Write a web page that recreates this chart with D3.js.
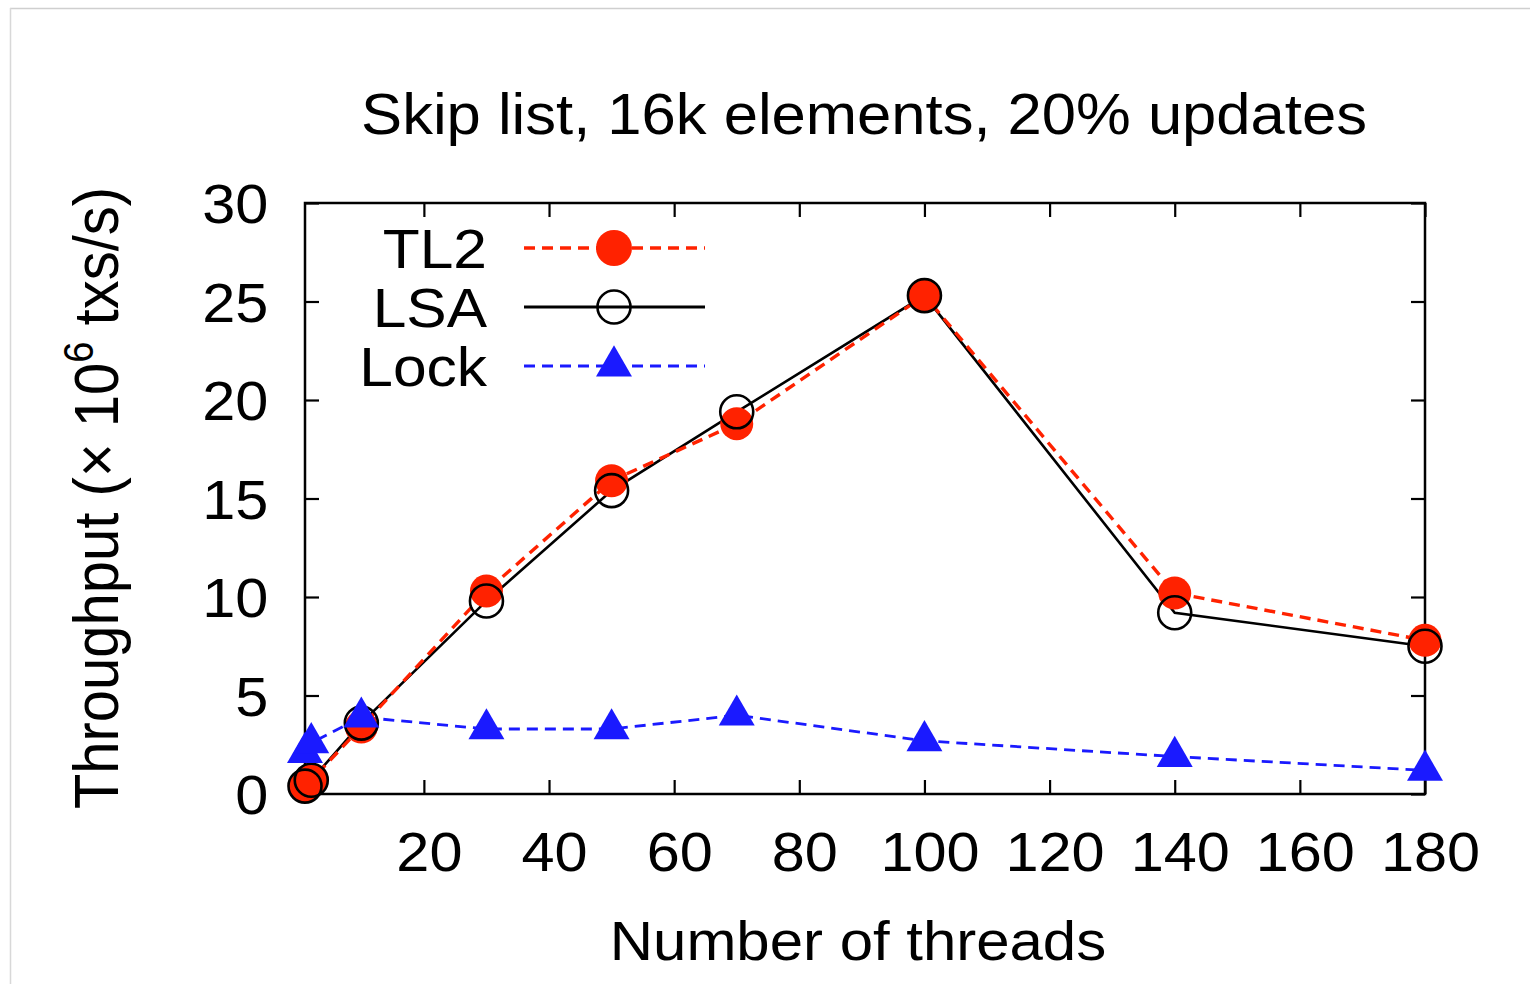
<!DOCTYPE html>
<html><head><meta charset="utf-8">
<script src="https://cdn.jsdelivr.net/npm/d3@7"></script>
<style>
html,body{margin:0;padding:0;background:#fff;}
svg{display:block;font-family:"Liberation Sans",Arial,Helvetica,sans-serif;}
</style></head>
<body>
<svg id="chart" width="1530" height="984"></svg>
<script>
const title = "Skip list, 16k elements, 20% updates";
const xLabel = "Number of threads";
const threads = [1, 2, 10, 30, 50, 70, 100, 140, 180];
const tl2  = [0.4, 0.7, 3.4, 10.3, 15.9, 18.8, 25.3, 10.2, 7.8];
const lsa  = [0.4, 0.7, 3.6, 9.8, 15.4, 19.4, 25.3, 9.2, 7.5];
const lock = [2.1, 2.6, 3.9, 3.3, 3.3, 4.0, 2.7, 1.9, 1.2];
const xTicks = [20, 40, 60, 80, 100, 120, 140, 160, 180];
const yTicks = [0, 5, 10, 15, 20, 25, 30];
const seriesNames = ["TL2", "LSA", "Lock"];

const svg = d3.select("#chart");
const W = 1530, H = 984;
const m = {left: 305, right: 1425, top: 203, bottom: 794};
const SX = 1.08; // horizontal stretch of glyphs seen in the reference
const FS = 56;

// screenshot frame
svg.append("line").attr("x1",10).attr("x2",W).attr("y1",8.5).attr("y2",8.5).attr("stroke","#cfcfcf").attr("stroke-width",1.5);
svg.append("line").attr("x1",10.5).attr("x2",10.5).attr("y1",8).attr("y2",H).attr("stroke","#d8d8d8").attr("stroke-width",1.5);

const x = d3.scaleLinear().domain([1, 180]).range([m.left, m.right]);
const y = d3.scaleLinear().domain([0, 30]).range([m.bottom, m.top]);

const tickLen = 14;
const g = svg.append("g");

g.append("rect").attr("x", m.left).attr("y", m.top)
  .attr("width", m.right - m.left).attr("height", m.bottom - m.top)
  .attr("fill", "none").attr("stroke", "#000").attr("stroke-width", 2.5);

const xAxisB = d3.axisBottom(x).tickValues(xTicks).tickSize(-tickLen).tickPadding(38);
const xAxisT = d3.axisTop(x).tickValues(xTicks).tickSize(-tickLen).tickFormat("");
const yAxisL = d3.axisLeft(y).tickValues(yTicks).tickSize(-tickLen).tickPadding(34);
const yAxisR = d3.axisRight(y).tickValues(yTicks).tickSize(-tickLen).tickFormat("");

function style(sel){
  sel.select(".domain").remove();
  sel.selectAll(".tick line").attr("stroke","#000").attr("stroke-width",2.2);
  sel.selectAll(".tick text").attr("fill","#000").attr("font-size",FS-1)
     .attr("font-family",'"Liberation Sans",Arial,sans-serif')
     .attr("transform",`scale(${SX},1)`);
}
g.append("g").attr("transform",`translate(0,${m.bottom})`).call(xAxisB).call(style)
  .selectAll(".tick text").attr("dy","0.71em").attr("transform",`translate(5,0) scale(${SX},1)`);
g.append("g").attr("transform",`translate(0,${m.top})`).call(xAxisT).call(style);
g.append("g").attr("transform",`translate(${m.left},0)`).call(yAxisL).call(style)
  .selectAll(".tick text").attr("dy","0.36em");
g.append("g").attr("transform",`translate(${m.right},0)`).call(yAxisR).call(style);

function stretchText(cx, cy, anchor, size, str){
  return svg.append("text").attr("transform",`translate(${cx},${cy}) scale(${SX},1)`)
    .attr("text-anchor",anchor).attr("font-size",size).attr("fill","#000").text(str);
}
stretchText(864, 134, "middle", FS + 1, title);
stretchText(858, 960, "middle", 55.5, xLabel);

// y label (rotated)
const yl = svg.append("text").attr("transform",`translate(118,498) scale(1.1,1) rotate(-90)`)
  .attr("text-anchor","middle").attr("font-size",58).attr("fill","#000");
yl.append("tspan").text("Throughput (\u00d7 10");
yl.append("tspan").attr("font-size",38).attr("dy",-23).text("6");
yl.append("tspan").attr("dy",23).text(" txs/s)");

const RED = "#ff2200", BLUE = "#1a1aff";
const line = d3.line().x(d => x(d[0])).y(d => y(d[1]));
const zip = arr => threads.map((t,i) => [t, arr[i]]);

const plot = svg.append("g");
plot.append("path").datum(zip(lock)).attr("d", line).attr("fill","none")
  .attr("stroke", BLUE).attr("stroke-width", 2.8).attr("stroke-dasharray","11,7");
plot.append("path").datum(zip(lsa)).attr("d", line).attr("fill","none")
  .attr("stroke", "#000").attr("stroke-width", 2.6);
plot.append("path").datum(zip(tl2)).attr("d", line).attr("fill","none")
  .attr("stroke", RED).attr("stroke-width", 3.4).attr("stroke-dasharray","11,7");

const tri = d3.symbol().type(d3.symbolTriangle).size(560);
plot.selectAll(".tl2").data(zip(tl2)).join("circle")
  .attr("cx", d => x(d[0])).attr("cy", d => y(d[1])).attr("r", 16.5).attr("fill", RED);
plot.selectAll(".lsa").data(zip(lsa)).join("circle")
  .attr("cx", d => x(d[0])).attr("cy", d => y(d[1])).attr("r", 16.5)
  .attr("fill","none").attr("stroke","#000").attr("stroke-width",2.6);
plot.selectAll(".lock").data(zip(lock)).join("path")
  .attr("d", tri).attr("transform", d => `translate(${x(d[0])},${y(d[1])})`).attr("fill", BLUE);

// legend
const legY = [248, 307, 366];
const lg = svg.append("g");
seriesNames.forEach((name, i) => {
  const yy = legY[i];
  lg.append("text").attr("transform",`translate(487,${yy + 20}) scale(${SX},1)`).attr("text-anchor","end")
    .attr("font-size", FS).attr("fill","#000").text(name);
  const ln = lg.append("line").attr("x1", 524).attr("x2", 705).attr("y1", yy).attr("y2", yy);
  if (i === 0) {
    ln.attr("stroke", RED).attr("stroke-width", 3.6).attr("stroke-dasharray","11,7");
    lg.append("circle").attr("cx", 614).attr("cy", yy).attr("r", 18).attr("fill", RED);
  } else if (i === 1) {
    ln.attr("stroke", "#000").attr("stroke-width", 2.8);
    lg.append("circle").attr("cx", 614).attr("cy", yy).attr("r", 16.5)
      .attr("fill","none").attr("stroke","#000").attr("stroke-width",2.6);
  } else {
    ln.attr("stroke", BLUE).attr("stroke-width", 3.2).attr("stroke-dasharray","11,7");
    lg.append("path").attr("d", tri).attr("transform", `translate(614,${yy})`).attr("fill", BLUE);
  }
});
</script>
</body></html>
